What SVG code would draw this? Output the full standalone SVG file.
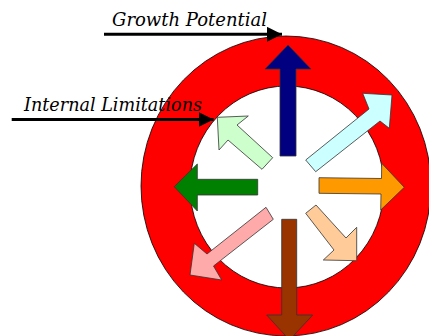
<svg xmlns="http://www.w3.org/2000/svg" width="429" height="336" viewBox="0 0 429 336">
<style>
.lbl{font-family:"DejaVu Serif","Liberation Serif",serif;font-style:italic;font-size:18.5px;fill:#000}
.arr{stroke:#333;stroke-width:0.8;stroke-linejoin:miter}
.ptr{stroke:#000;stroke-width:3;fill:none}
</style>
<defs>
<marker id="ah" markerWidth="5" markerHeight="5" refX="5" refY="2.5" orient="auto" markerUnits="strokeWidth">
<path d="M0,0 L5,2.5 L0,5 Z" fill="#000"/>
</marker>
</defs>
<rect width="429" height="336" fill="#fff"/>
<g id="ring">
<ellipse cx="286" cy="186" rx="145" ry="150" fill="#ff0000" stroke="#000" stroke-width="0.8"/>
<ellipse cx="287" cy="187" rx="97" ry="101" fill="#fff" stroke="#000" stroke-width="0.8"/>
</g>
<g id="arrow-up"><polygon class="arr" fill="#000080" points="280,156 280,69 265,69 288,45 311,69 296,69 296,156"/></g>
<g id="arrow-ne"><polygon class="arr" fill="#ccffff" points="305.7,160 369,109 362.7,93.3 392,95 389.3,128.3 380,121 315.7,171.7"/></g>
<g id="arrow-nw"><polygon class="arr" fill="#ccffcc" points="272.7,157.7 237,125 248.3,116 217.3,117.3 219,150 228,140 262,169.3"/></g>
<g id="arrow-w"><polygon class="arr" fill="#008000" points="257.7,179.3 197.3,179.3 197.3,164 174.3,186.7 197.3,211 197.3,195 257.7,195"/></g>
<g id="arrow-e"><polygon class="arr" fill="#ff9900" points="319,177.7 381.5,178.5 381.7,163.3 404.3,187.3 380.7,210 381,194 319,193.3"/></g>
<g id="arrow-se"><polygon class="arr" fill="#ffcc99" points="316,205 346,238 356.7,227.3 356.7,260.7 323.3,260 334,250 305.7,213.3"/></g>
<g id="arrow-sw"><polygon class="arr" fill="#ffaaaa" points="266,207.3 207,254 194.3,243.3 190,275 221.7,280 213.5,266 273.3,219.3"/></g>
<g id="arrow-down"><polygon class="arr" fill="#993300" points="281.7,219.3 281.7,315 266.7,315 289.5,340 312.7,315 296.7,315 296.7,219.3"/></g>
<g id="connectors">
<line class="ptr" x1="104" y1="34.3" x2="282" y2="34.3" marker-end="url(#ah)"/>
<line class="ptr" x1="11.7" y1="119.5" x2="213.5" y2="119.5" marker-end="url(#ah)"/>
</g>
<g id="label-growth"><text class="lbl" x="112" y="25.5" textLength="155" lengthAdjust="spacingAndGlyphs">Growth Potential</text></g>
<g id="label-internal"><text class="lbl" x="24" y="111" textLength="178" lengthAdjust="spacingAndGlyphs">Internal Limitations</text></g>
</svg>
